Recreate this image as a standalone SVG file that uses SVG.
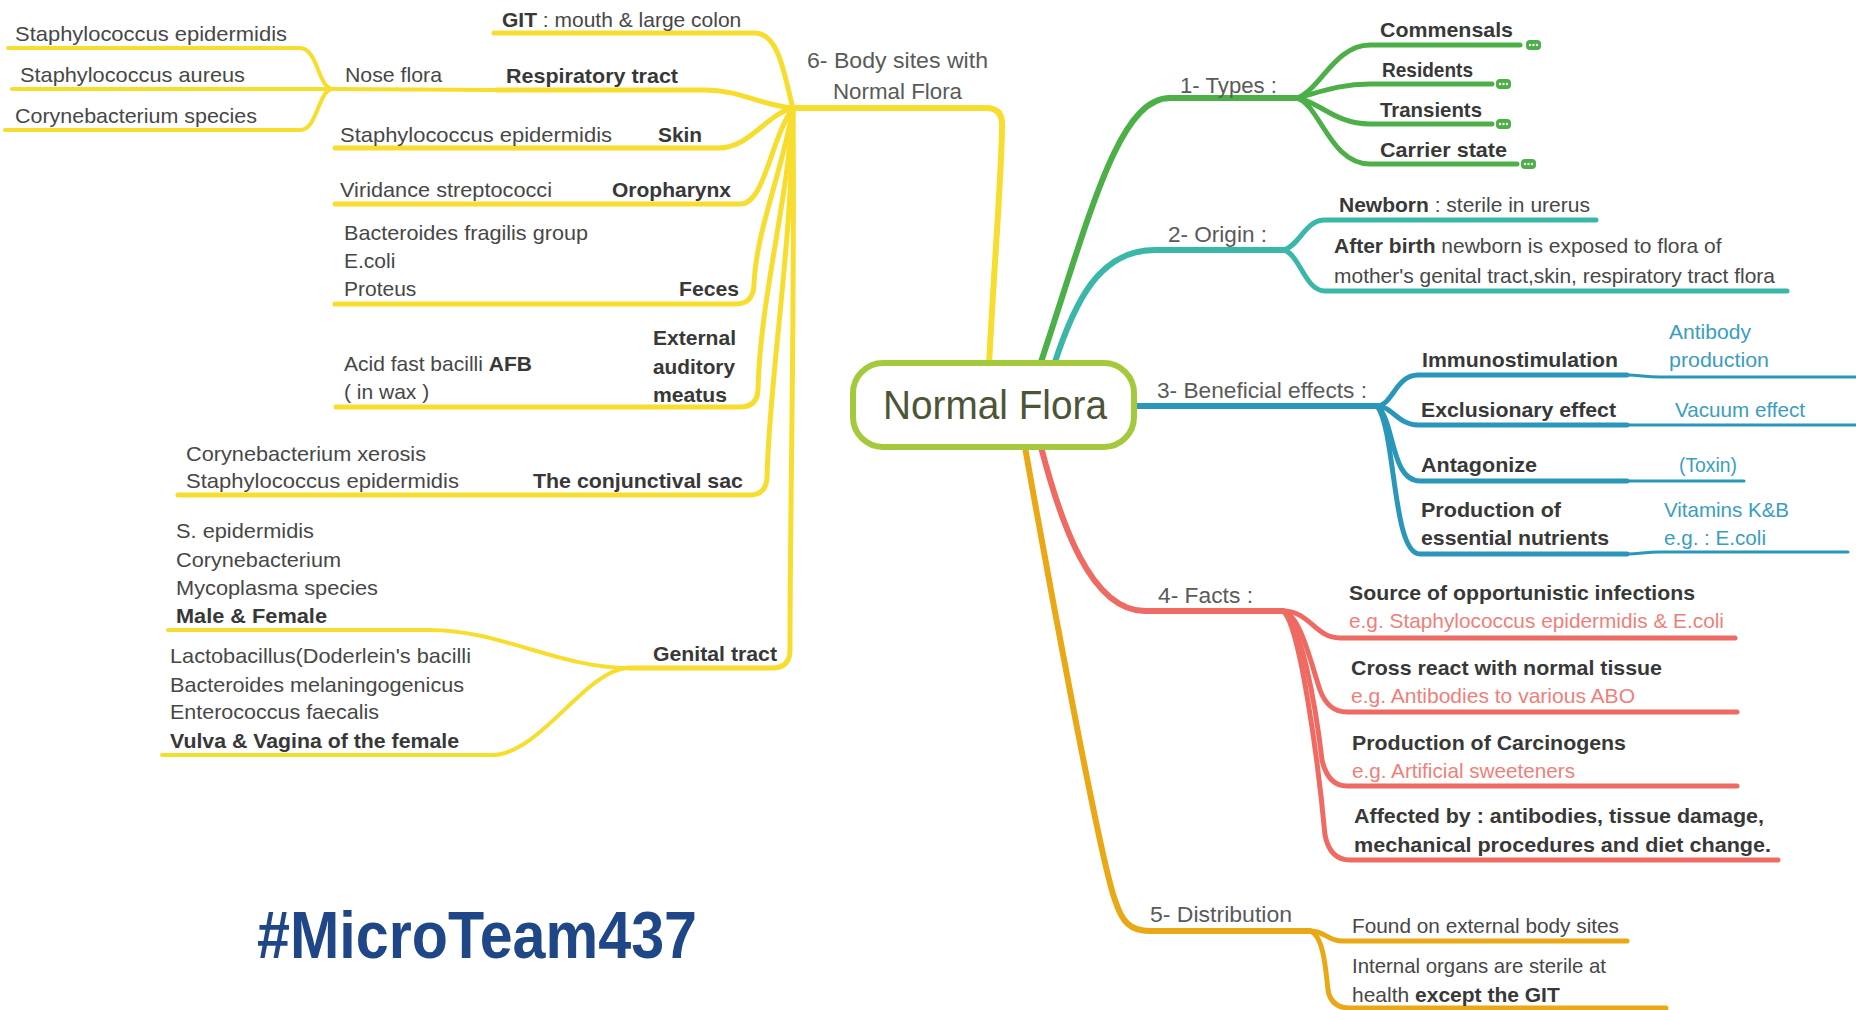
<svg xmlns="http://www.w3.org/2000/svg" width="1856" height="1010" viewBox="0 0 1856 1010">
<style>
.c{fill:none;stroke-linecap:round;stroke-linejoin:round}
.y{stroke:#f7dd2e}.g{stroke:#4caf48}.tl{stroke:#3bb7aa}.bl{stroke:#2a97ba}.r{stroke:#ee6a62}.o{stroke:#e9a815}
.w6{stroke-width:6}.w5{stroke-width:5}.w4{stroke-width:4}.w3{stroke-width:3}
.t{font-family:"Liberation Sans",Arial,sans-serif;font-size:21px;fill:#474747}
.b{font-weight:700;fill:#383838}
.lbl{font-size:22px;fill:#5a5a5a}
.bt{fill:#3a9dc2}
.rt{fill:#ef7f7b}
.btn{fill:#4caf48}
.dot{fill:#fff}
</style>
<rect width="1856" height="1010" fill="#fff"/>

<g id="connectors">
  <path class="c y w6" d="M989,365 C995,250 1002,170 1002,124 Q1002,108 986,108 L793,108"/>
  <path class="c y w5" d="M793,108 C785,80 780,33 755,33 L494,33"/>
  <path class="c y w5" d="M793,108 C760,105 740,90 705,90 L497,90"/>
  <path class="c y w4" d="M497,90 L333,89"/>
  <path class="c y w4" d="M333,89 C318,89 318,48 300,48 L8,48"/>
  <path class="c y w4" d="M333,89 L12,89"/>
  <path class="c y w4" d="M333,89 C318,89 318,130 300,130 L5,130"/>
  <path class="c y w5" d="M793,108 C765,115 750,148 718,148 L335,148"/>
  <path class="c y w5" d="M793,108 C770,140 765,204 740,204 L335,204"/>
  <path class="c y w5" d="M793,108 C783,170 756,230 754,285 Q753,304 736,304 L335,304"/>
  <path class="c y w5" d="M793,108 C788,200 760,300 758,390 Q757,407 740,407 L336,407"/>
  <path class="c y w5" d="M793,108 C792,250 769,380 767,478 Q766,495 749,495 L178,495"/>
  <path class="c y w5" d="M793,108 C795,300 790,500 790,650 Q790,668 772,668 L628,668"/>
  <path class="c y w4" d="M628,668 C560,668 500,630 430,630 L168,630"/>
  <path class="c y w4" d="M628,668 C585,670 540,755 492,755 L162,755"/>

  <path class="c g w6" d="M1040,365 C1090,215 1118,98 1170,98 L1297,98"/>
  <path class="c g w5" d="M1297,98 C1320,90 1335,45 1370,45 L1520,45"/>
  <path class="c g w5" d="M1297,98 C1320,92 1340,84 1370,84 L1492,84"/>
  <path class="c g w5" d="M1297,98 C1320,102 1335,124 1370,124 L1492,124"/>
  <path class="c g w5" d="M1297,98 C1320,105 1330,164 1370,164 L1517,164"/>

  <path class="c tl w6" d="M1054,365 C1075,300 1100,250 1155,250 L1284,250"/>
  <path class="c tl w5" d="M1284,250 C1300,245 1305,220 1325,220 L1596,220"/>
  <path class="c tl w5" d="M1284,250 C1300,255 1305,291 1325,291 L1787,291"/>

  <path class="c bl w6" d="M1134,406 L1377,406"/>
  <path class="c bl w5" d="M1377,406 C1392,406 1396,375 1418,375 L1627,375"/>
  <path class="c bl w3" d="M1627,375 C1640,375 1645,377 1660,377 L1856,377"/>
  <path class="c bl w5" d="M1377,406 C1392,406 1398,425 1418,425 L1627,425"/>
  <path class="c bl w3" d="M1627,425 L1856,425"/>
  <path class="c bl w5" d="M1377,406 C1395,420 1390,481 1420,481 L1627,481"/>
  <path class="c bl w3" d="M1627,481 L1744,481"/>
  <path class="c bl w5" d="M1377,406 C1396,430 1392,554 1420,554 L1627,554"/>
  <path class="c bl w3" d="M1627,554 C1640,554 1645,552 1660,552 L1848,552"/>

  <path class="c r w6" d="M1041,447 C1060,520 1090,611 1145,611 L1283,611"/>
  <path class="c r w5" d="M1283,611 C1310,611 1315,638 1340,638 L1735,638"/>
  <path class="c r w5" d="M1283,611 C1300,615 1310,660 1320,690 Q1328,712 1347,712 L1737,712"/>
  <path class="c r w5" d="M1283,611 C1300,620 1315,700 1322,760 Q1328,786 1347,786 L1737,786"/>
  <path class="c r w5" d="M1283,611 C1300,625 1318,760 1325,835 Q1330,860 1350,860 L1778,860"/>

  <path class="c o w6" d="M1025,447 C1045,560 1100,860 1115,900 C1122,922 1130,931 1150,931 L1310,931"/>
  <path class="c o w5" d="M1310,931 C1325,931 1328,941 1342,941 L1627,941"/>
  <path class="c o w5" d="M1310,931 C1322,935 1325,960 1328,990 Q1331,1008 1350,1008 L1666,1008"/>
</g>

<g id="root">
  <rect x="853" y="363" width="281" height="84" rx="30" fill="#fff" stroke="#a5c93c" stroke-width="6"/>
  <text class="t" x="883" y="419" style="font-size:40px;fill:#4d5538" textLength="224" lengthAdjust="spacingAndGlyphs">Normal Flora</text>
</g>

<g id="body-sites">
  <text class="t lbl" x="807" y="68" textLength="181" lengthAdjust="spacingAndGlyphs">6- Body sites with</text>
  <text class="t lbl" x="833" y="99" textLength="129" lengthAdjust="spacingAndGlyphs">Normal Flora</text>
</g>
<g id="git">
  <text class="t" x="502" y="27"><tspan class="b">GIT</tspan> : mouth &amp; large colon</text>
</g>
<g id="respiratory">
  <text class="t b" x="506" y="83" textLength="172" lengthAdjust="spacingAndGlyphs">Respiratory tract</text>
</g>
<g id="nose-flora">
  <text class="t" x="345" y="82" textLength="97" lengthAdjust="spacingAndGlyphs">Nose flora</text>
</g>
<g id="nose-staph-epi">
  <text class="t" x="15" y="41" textLength="272" lengthAdjust="spacingAndGlyphs">Staphylococcus epidermidis</text>
</g>
<g id="nose-staph-aureus">
  <text class="t" x="20" y="82" textLength="225" lengthAdjust="spacingAndGlyphs">Staphylococcus aureus</text>
</g>
<g id="nose-coryne">
  <text class="t" x="15" y="123" textLength="242" lengthAdjust="spacingAndGlyphs">Corynebacterium species</text>
</g>
<g id="skin">
  <text class="t" x="340" y="142" textLength="272" lengthAdjust="spacingAndGlyphs">Staphylococcus epidermidis</text>
  <text class="t b" x="658" y="142" textLength="44" lengthAdjust="spacingAndGlyphs">Skin</text>
</g>
<g id="oropharynx">
  <text class="t" x="340" y="197" textLength="212" lengthAdjust="spacingAndGlyphs">Viridance streptococci</text>
  <text class="t b" x="612" y="197" textLength="119" lengthAdjust="spacingAndGlyphs">Oropharynx</text>
</g>
<g id="feces">
  <text class="t" x="344" y="240" textLength="244" lengthAdjust="spacingAndGlyphs">Bacteroides fragilis group</text>
  <text class="t" x="344" y="268">E.coli</text>
  <text class="t" x="344" y="296">Proteus</text>
  <text class="t b" x="679" y="296" textLength="60" lengthAdjust="spacingAndGlyphs">Feces</text>
</g>
<g id="ear">
  <text class="t" x="344" y="371">Acid fast bacilli <tspan class="b">AFB</tspan></text>
  <text class="t" x="344" y="399">( in wax )</text>
  <text class="t b" x="653" y="345" textLength="83" lengthAdjust="spacingAndGlyphs">External</text>
  <text class="t b" x="653" y="374" textLength="82" lengthAdjust="spacingAndGlyphs">auditory</text>
  <text class="t b" x="653" y="402" textLength="74" lengthAdjust="spacingAndGlyphs">meatus</text>
</g>
<g id="conjunctival">
  <text class="t" x="186" y="461" textLength="240" lengthAdjust="spacingAndGlyphs">Corynebacterium xerosis</text>
  <text class="t" x="186" y="488" textLength="273" lengthAdjust="spacingAndGlyphs">Staphylococcus epidermidis</text>
  <text class="t b" x="533" y="488" textLength="210" lengthAdjust="spacingAndGlyphs">The conjunctival sac</text>
</g>
<g id="genital">
  <text class="t b" x="653" y="661" textLength="124" lengthAdjust="spacingAndGlyphs">Genital tract</text>
</g>
<g id="genital-male-female">
  <text class="t" x="176" y="538" textLength="138" lengthAdjust="spacingAndGlyphs">S. epidermidis</text>
  <text class="t" x="176" y="567" textLength="165" lengthAdjust="spacingAndGlyphs">Corynebacterium</text>
  <text class="t" x="176" y="595" textLength="202" lengthAdjust="spacingAndGlyphs">Mycoplasma species</text>
  <text class="t b" x="176" y="623" textLength="151" lengthAdjust="spacingAndGlyphs">Male &amp; Female</text>
</g>
<g id="genital-female">
  <text class="t" x="170" y="663" textLength="301" lengthAdjust="spacingAndGlyphs">Lactobacillus(Doderlein's bacilli</text>
  <text class="t" x="170" y="692" textLength="294" lengthAdjust="spacingAndGlyphs">Bacteroides melaningogenicus</text>
  <text class="t" x="170" y="719" textLength="209" lengthAdjust="spacingAndGlyphs">Enterococcus faecalis</text>
  <text class="t b" x="170" y="748" textLength="289" lengthAdjust="spacingAndGlyphs">Vulva &amp; Vagina of the female</text>
</g>

<g id="types">
  <text class="t lbl" x="1180" y="93" textLength="97" lengthAdjust="spacingAndGlyphs">1- Types :</text>
</g>
<g id="commensals">
  <text class="t b" x="1380" y="37" textLength="133" lengthAdjust="spacingAndGlyphs">Commensals</text>
  <rect class="btn" x="1526" y="40" width="15" height="10" rx="4"/>
  <circle class="dot" cx="1530" cy="45" r="1.2"/><circle class="dot" cx="1533.5" cy="45" r="1.2"/><circle class="dot" cx="1537" cy="45" r="1.2"/>
</g>
<g id="residents">
  <text class="t b" x="1382" y="77" textLength="91" lengthAdjust="spacingAndGlyphs">Residents</text>
  <rect class="btn" x="1496" y="79" width="15" height="10" rx="4"/>
  <circle class="dot" cx="1500" cy="84" r="1.2"/><circle class="dot" cx="1503.5" cy="84" r="1.2"/><circle class="dot" cx="1507" cy="84" r="1.2"/>
</g>
<g id="transients">
  <text class="t b" x="1380" y="117" textLength="102" lengthAdjust="spacingAndGlyphs">Transients</text>
  <rect class="btn" x="1496" y="119" width="15" height="10" rx="4"/>
  <circle class="dot" cx="1500" cy="124" r="1.2"/><circle class="dot" cx="1503.5" cy="124" r="1.2"/><circle class="dot" cx="1507" cy="124" r="1.2"/>
</g>
<g id="carrier">
  <text class="t b" x="1380" y="157" textLength="127" lengthAdjust="spacingAndGlyphs">Carrier state</text>
  <rect class="btn" x="1521" y="159" width="15" height="10" rx="4"/>
  <circle class="dot" cx="1525" cy="164" r="1.2"/><circle class="dot" cx="1528.5" cy="164" r="1.2"/><circle class="dot" cx="1532" cy="164" r="1.2"/>
</g>

<g id="origin">
  <text class="t lbl" x="1168" y="242" textLength="99" lengthAdjust="spacingAndGlyphs">2- Origin :</text>
</g>
<g id="newborn">
  <text class="t" x="1339" y="212"><tspan class="b">Newborn</tspan> : sterile in urerus</text>
</g>
<g id="after-birth">
  <text class="t" x="1334" y="253"><tspan class="b">After birth</tspan> newborn is exposed to flora of</text>
  <text class="t" x="1334" y="283" textLength="441" lengthAdjust="spacingAndGlyphs">mother's genital tract,skin, respiratory tract flora</text>
</g>

<g id="beneficial">
  <text class="t lbl" x="1157" y="398" textLength="210" lengthAdjust="spacingAndGlyphs">3- Beneficial effects :</text>
</g>
<g id="immuno">
  <text class="t b" x="1422" y="367" textLength="196" lengthAdjust="spacingAndGlyphs">Immunostimulation</text>
  <text class="t bt" x="1669" y="339" textLength="82" lengthAdjust="spacingAndGlyphs">Antibody</text>
  <text class="t bt" x="1669" y="367" textLength="100" lengthAdjust="spacingAndGlyphs">production</text>
</g>
<g id="exclusionary">
  <text class="t b" x="1421" y="417" textLength="195" lengthAdjust="spacingAndGlyphs">Exclusionary effect</text>
  <text class="t bt" x="1675" y="417" textLength="130" lengthAdjust="spacingAndGlyphs">Vacuum effect</text>
</g>
<g id="antagonize">
  <text class="t b" x="1421" y="472" textLength="116" lengthAdjust="spacingAndGlyphs">Antagonize</text>
  <text class="t bt" x="1679" y="472" textLength="58" lengthAdjust="spacingAndGlyphs">(Toxin)</text>
</g>
<g id="nutrients">
  <text class="t b" x="1421" y="517" textLength="140" lengthAdjust="spacingAndGlyphs">Production of</text>
  <text class="t b" x="1421" y="545" textLength="188" lengthAdjust="spacingAndGlyphs">essential nutrients</text>
  <text class="t bt" x="1664" y="517" textLength="125" lengthAdjust="spacingAndGlyphs">Vitamins K&amp;B</text>
  <text class="t bt" x="1664" y="545" textLength="102" lengthAdjust="spacingAndGlyphs">e.g. : E.coli</text>
</g>

<g id="facts">
  <text class="t lbl" x="1158" y="603" textLength="95" lengthAdjust="spacingAndGlyphs">4- Facts :</text>
</g>
<g id="source">
  <text class="t b" x="1349" y="600" textLength="346" lengthAdjust="spacingAndGlyphs">Source of opportunistic infections</text>
  <text class="t rt" x="1349" y="628" textLength="375" lengthAdjust="spacingAndGlyphs">e.g. Staphylococcus epidermidis &amp; E.coli</text>
</g>
<g id="cross-react">
  <text class="t b" x="1351" y="675" textLength="311" lengthAdjust="spacingAndGlyphs">Cross react with normal tissue</text>
  <text class="t rt" x="1351" y="703" textLength="284" lengthAdjust="spacingAndGlyphs">e.g. Antibodies to various ABO</text>
</g>
<g id="carcinogens">
  <text class="t b" x="1352" y="750" textLength="274" lengthAdjust="spacingAndGlyphs">Production of Carcinogens</text>
  <text class="t rt" x="1352" y="778" textLength="223" lengthAdjust="spacingAndGlyphs">e.g. Artificial sweeteners</text>
</g>
<g id="affected">
  <text class="t b" x="1354" y="823" textLength="410" lengthAdjust="spacingAndGlyphs">Affected by : antibodies, tissue damage,</text>
  <text class="t b" x="1354" y="852" textLength="417" lengthAdjust="spacingAndGlyphs">mechanical procedures and diet change.</text>
</g>

<g id="distribution">
  <text class="t lbl" x="1150" y="922" textLength="142" lengthAdjust="spacingAndGlyphs">5- Distribution</text>
</g>
<g id="external-sites">
  <text class="t" x="1352" y="933" textLength="267" lengthAdjust="spacingAndGlyphs">Found on external body sites</text>
</g>
<g id="internal-organs">
  <text class="t" x="1352" y="973" textLength="254" lengthAdjust="spacingAndGlyphs">Internal organs are sterile at</text>
  <text class="t" x="1352" y="1002">health <tspan class="b">except the GIT</tspan></text>
</g>

<g id="team">
  <text x="257" y="958" style="font-family:'Liberation Sans',Arial,sans-serif;font-weight:700;font-size:66px;fill:#1f4788" textLength="440" lengthAdjust="spacingAndGlyphs">#MicroTeam437</text>
</g>
</svg>
